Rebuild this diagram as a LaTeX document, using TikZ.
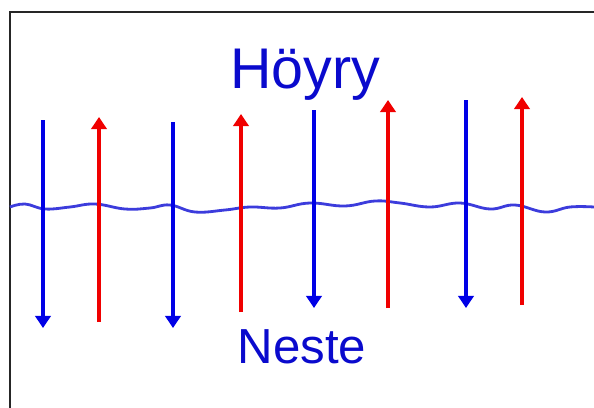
\documentclass[tikz,border=0pt]{standalone}
\usepackage{fontspec}
\setmainfont{Liberation Sans}
\usetikzlibrary{arrows.meta}
\definecolor{liquid}{HTML}{0000E6}
\definecolor{vapour}{HTML}{F00000}
\definecolor{surface}{HTML}{3C3CDC}
\definecolor{labelblue}{HTML}{0A0ACD}
\tikzset{
  liquidarrow/.style={draw=liquid,line width=3.4pt,
    -{Triangle[length=0.3cm,width=0.38cm]}},
  vapourarrow/.style={draw=vapour,line width=3.4pt,
    -{Triangle[length=0.3cm,width=0.38cm]}},
  surfaceline/.style={draw=surface,line width=2pt},
  framestyle/.style={draw=black!85,line width=2pt},
  phaselabel/.style={text=labelblue,inner sep=0pt,anchor=base}
}

\begin{document}
\begin{tikzpicture}[x=0.025cm,y=-0.025cm]
  \useasboundingbox (0,0) rectangle (594,408);
  % frame, cut at the right and bottom
  \draw[framestyle] (10,408) |- (594,12);
  % labels
  \node[phaselabel,font=\fontsize{40.8}{44}\selectfont] (hoyry) at (305,88) {Höyry};
  \node[phaselabel,font=\fontsize{35}{40}\selectfont] (neste) at (302,363) {Neste};
  % liquid surface
  \draw[surfaceline] plot[smooth,tension=0.7] coordinates {
    (10,207) (25,204) (45,209) (70,207) (95,204) (125,209) (150,208)
    (170,205) (195,212) (225,210) (250,207) (280,208) (310,203) (345,206)
    (375,201) (400,203) (430,207) (460,203) (490,209) (515,205) (545,212)
    (570,207) (594,207)};
  % condensing (down) and evaporating (up)
  \foreach \x/\top/\bot in {43/120/328,173/122/328,314/110/308,466/100/308}
    \draw[liquidarrow] (\x,\top) -- (\x,\bot);
  \foreach \x/\top/\bot in {99/117/322,241/114/312,388/100/308,522/97/305}
    \draw[vapourarrow] (\x,\bot) -- (\x,\top);
\end{tikzpicture}
\end{document}
